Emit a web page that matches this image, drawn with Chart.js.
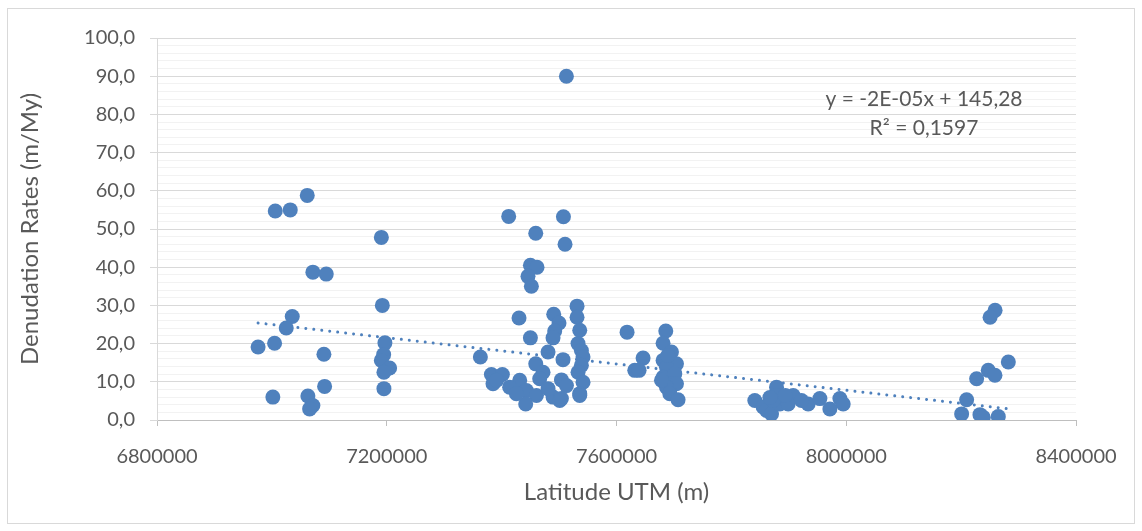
<!DOCTYPE html>
<html>
<head>
<meta charset="utf-8">
<script src="https://cdn.jsdelivr.net/npm/chart.js@4.4.0/dist/chart.umd.min.js"></script>
<style>
  html, body { margin: 0; padding: 0; background: #ffffff; }
  #wrap { width: 1142px; height: 531px; }
</style>
</head>
<body>
<div id="wrap"><canvas id="c" width="1142" height="531"></canvas></div>
<script>
// Latitude UTM (m) of each sample
const latitudes = [
  6976000, 7004700, 7001700, 7005900, 7032000, 7061600, 7035500, 7025000, 7071400, 7094700,
  7090600, 7091800, 7062700, 7071400, 7065700,
  7190600, 7192300, 7196800, 7194600, 7190600, 7205000, 7195100, 7195100,
  7512800, 7412300, 7507600, 7459400, 7510400, 7450100, 7461600, 7445900, 7451800, 7430300,
  7490700, 7499900, 7492400, 7489500, 7450100, 7531300, 7531300, 7536000, 7533000, 7538900,
  7541700, 7480800, 7506900, 7363000, 7459400, 7538900, 7472100, 7533000, 7382200, 7401300,
  7385000, 7431500, 7466300, 7504100, 7541700, 7414000, 7443100, 7512800, 7460600, 7489500,
  7501200, 7441900, 7536000, 7480800, 7425700, 7504100, 7536000, 7391400,
  7618400, 7685800, 7681100, 7695700, 7646300, 7631800, 7639300, 7681100, 7704400, 7687000,
  7681100, 7701500, 7695700, 7704400, 7687000, 7692800, 7707200, 7678300, 7689300,
  7840800, 7855300, 7861200, 7869900, 7878600, 7878600, 7884400, 7872700, 7907600, 7898900,
  7933700, 7954100, 7971500, 7988900, 7994700, 7922100, 7894000, 7867000,
  8259100, 8250400, 8282200, 8247200, 8258900, 8227000, 8209600, 8200900, 8232800, 8238500, 8264700
];
// Denudation rates (m/My), same order
const denudationRates = [
  19.1, 20.1, 6.0, 54.7, 55.0, 58.8, 27.1, 24.1, 38.7, 38.2,
  17.2, 8.8, 6.3, 3.8, 2.9,
  47.8, 30.0, 20.2, 17.1, 15.6, 13.6, 12.5, 8.2,
  90.0, 53.3, 53.2, 48.9, 46.0, 40.5, 40.0, 37.6, 35.0, 26.7,
  27.7, 25.4, 23.3, 21.5, 21.5, 29.8, 26.9, 23.5, 20.0, 18.2,
  16.5, 17.8, 15.8, 16.5, 14.7, 14.3, 12.5, 12.5, 11.9, 11.9,
  9.5, 10.4, 10.8, 10.5, 9.9, 8.6, 7.7, 9.0, 6.4, 6.0,
  5.1, 4.2, 6.9, 8.2, 6.9, 5.6, 6.4, 10.4,
  23.0, 23.3, 20.1, 17.8, 16.2, 13.0, 13.0, 15.6, 14.7, 13.8,
  11.2, 12.1, 9.5, 9.5, 8.6, 6.9, 5.3, 10.4, 16.9,
  5.1, 3.4, 2.5, 1.6, 8.6, 6.4, 4.2, 5.1, 6.4, 4.2,
  4.2, 5.6, 2.9, 5.6, 4.2, 5.1, 6.4, 5.9,
  28.7, 26.9, 15.2, 13.0, 11.7, 10.8, 5.3, 1.6, 1.4, 0.7, 0.9
];
// Linear trendline end points
const trendX = [6976000, 8284000];
const trendY = [25.4, 2.9];
const trendLabels = ['y = -2E-05x + 145,28', 'R\u00B2 = 0,1597'];

const xTickLabels = ['6800000', '7200000', '7600000', '8000000', '8400000'];
const yTickLabels = ['0,0', '10,0', '20,0', '30,0', '40,0', '50,0', '60,0', '70,0', '80,0', '90,0', '100,0'];
const xTitle = 'Latitude UTM (m)';
const yTitle = 'Denudation Rates (m/My)';

const FONT = 'Lato, "Open Sans", sans-serif';
const TEXT = '#595959';
const BLUE = '#4f81bd';

const points = latitudes.map((x, i) => ({ x: x, y: denudationRates[i] }));
const trend = trendX.map((x, i) => ({ x: x, y: trendY[i] }));

const framePlugin = {
  id: 'frame',
  beforeDraw(chart) {
    const ctx = chart.ctx;
    ctx.save();
    ctx.fillStyle = '#ffffff';
    ctx.fillRect(0, 0, chart.width, chart.height);
    ctx.strokeStyle = '#d9d9d9';
    ctx.lineWidth = 1;
    ctx.strokeRect(7.5, 8.5, 1127, 515);
    ctx.restore();
  },
  afterDraw(chart) {
    const ctx = chart.ctx;
    ctx.save();
    ctx.fillStyle = TEXT;
    ctx.font = '21px ' + FONT;
    ctx.textAlign = 'center';
    ctx.textBaseline = 'middle';
    ctx.fillText(trendLabels[0], 924, 99);
    ctx.fillText(trendLabels[1], 924, 128);
    ctx.restore();
  }
};

new Chart(document.getElementById('c'), {
  type: 'scatter',
  data: {
    datasets: [
      {
        label: 'Denudation',
        data: points,
        backgroundColor: BLUE,
        borderColor: BLUE,
        borderWidth: 0,
        pointRadius: 7.5,
        pointHoverRadius: 7.5,
        order: 1
      },
      {
        label: 'Trend',
        data: trend,
        showLine: true,
        pointRadius: 0,
        borderColor: BLUE,
        borderWidth: 3,
        borderDash: [0.01, 8],
        borderCapStyle: 'round',
        fill: false,
        order: 2
      }
    ]
  },
  options: {
    responsive: false,
    animation: false,
    devicePixelRatio: 1,
    layout: { padding: { left: 8, right: 66, top: 38, bottom: 0 } },
    plugins: { legend: { display: false }, tooltip: { enabled: false } },
    scales: {
      x: {
        type: 'linear',
        min: 6800000,
        max: 8400000,
        afterFit(scale) { scale.height = 111; },
        ticks: {
          stepSize: 400000,
          autoSkip: false,
          maxRotation: 0,
          padding: 19,
          color: TEXT,
          font: { family: FONT, size: 20 },
          callback: (v, i) => xTickLabels[i]
        },
        grid: {
          drawOnChartArea: false,
          drawTicks: true,
          tickLength: 6,
          tickColor: '#bfbfbf'
        },
        border: { display: true, color: '#bfbfbf' },
        title: {
          display: true,
          text: xTitle,
          color: TEXT,
          font: { family: FONT, size: 24 },
          padding: { top: 0, bottom: 24 }
        }
      },
      y: {
        min: 0,
        max: 100,
        afterFit(scale) { scale.width = 149; },
        ticks: {
          stepSize: 2,
          autoSkip: false,
          padding: 15,
          color: TEXT,
          font: { family: FONT, size: 20 },
          callback: (v) => (Math.round(v) % 10 === 0 ? yTickLabels[Math.round(v) / 10] : '')
        },
        grid: {
          color: (c) => (Math.round(c.tick.value) % 10 === 0 ? '#d9d9d9' : '#f2f2f2'),
          tickColor: (c) => (Math.round(c.tick.value) % 10 === 0 ? '#d9d9d9' : 'rgba(0,0,0,0)'),
          lineWidth: 1,
          tickLength: 7
        },
        border: { display: true, color: '#d9d9d9' },
        title: {
          display: true,
          text: yTitle,
          color: TEXT,
          font: { family: FONT, size: 24 },
          padding: { top: 8, bottom: 0 }
        }
      }
    }
  },
  plugins: [framePlugin]
});
</script>
</body>
</html>
